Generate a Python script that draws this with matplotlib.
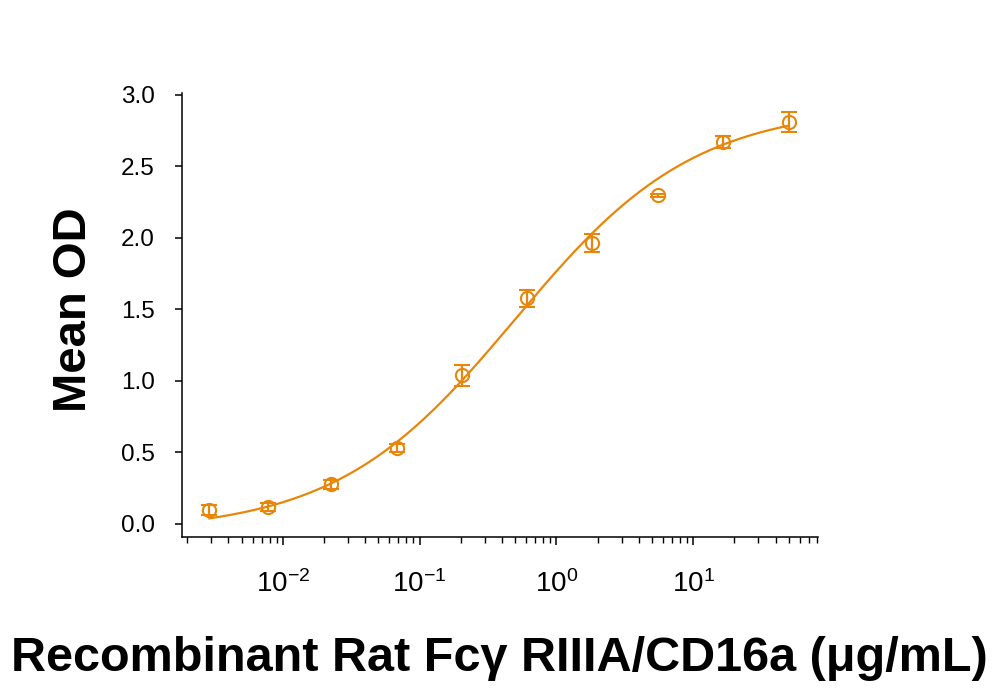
import numpy as np
import matplotlib
matplotlib.use('Agg')
import matplotlib.pyplot as plt
from matplotlib.ticker import LogLocator, LogFormatterMathtext, NullFormatter

plt.rcParams['axes.unicode_minus'] = False

# concentration (ug/mL), mean OD and error (half-length)
conc = [0.0029, 0.0078, 0.0226, 0.068, 0.203, 0.609, 1.83, 5.5, 16.6, 50.0]
mean_od = [0.094, 0.117, 0.274, 0.53, 1.038, 1.575, 1.96, 2.297, 2.67, 2.81]
err = [0.035, 0.03, 0.03, 0.03, 0.073, 0.062, 0.063, 0.012, 0.04, 0.072]

# 4-parameter logistic fit: bottom, top, EC50, hill slope
fit_bottom = -0.06
fit_top = 2.92
fit_ec50 = 0.5
fit_hill = 0.66

orange = '#E8860A'
tick_font = ['Liberation Sans', 'DejaVu Sans']
label_font = ['Liberation Sans', 'DejaVu Sans']

fig = plt.figure(figsize=(9.99, 6.9), dpi=100)
ax = fig.add_axes([0.1825, 0.2217, 0.6365, 0.6435])

xs = np.logspace(np.log10(conc[0]), np.log10(conc[-1]), 300)
ys = fit_top + (fit_bottom - fit_top) / (1 + (xs / fit_ec50) ** fit_hill)
ax.plot(xs, ys, color=orange, lw=1.6)

ax.errorbar(conc, mean_od, yerr=err, fmt='o', mfc='none', mec=orange,
            ms=9.5, mew=1.5, color=orange, ecolor=orange, elinewidth=1.6,
            capsize=6, capthick=1.6)

ax.set_xscale('log')
ax.set_xlim(0.00184, 82)
ax.set_ylim(-0.094, 3.012)
ax.set_yticks([0.0, 0.5, 1.0, 1.5, 2.0, 2.5, 3.0])
ax.set_yticklabels(['0.0', '0.5', '1.0', '1.5', '2.0', '2.5', '3.0'])

ax.xaxis.set_major_locator(LogLocator(base=10, numticks=10))
ax.xaxis.set_major_formatter(LogFormatterMathtext())
ax.xaxis.set_minor_locator(LogLocator(base=10, subs=np.arange(2, 10), numticks=20))
ax.xaxis.set_minor_formatter(NullFormatter())

for s in ['top', 'right']:
    ax.spines[s].set_visible(False)
for s in ['left', 'bottom']:
    ax.spines[s].set_linewidth(1.1)

ax.tick_params(axis='y', length=5, width=1.1, pad=15)
ax.tick_params(axis='x', which='major', length=6, width=1.1, pad=18)
ax.tick_params(axis='x', which='minor', length=4, width=1.0)

for lab in ax.get_yticklabels():
    lab.set_family(tick_font)
    lab.set_fontsize(17.5)
for lab in ax.get_xticklabels():
    lab.set_family(tick_font)
    lab.set_fontsize(20)

ax.set_ylabel('Mean OD', family=label_font, fontweight='bold', fontsize=34)
ax.yaxis.set_label_coords(-0.135, 0.512)
fig.text(0.5, 0.028, 'Recombinant Rat Fc\u03b3 RIIIA/CD16a (\u03bcg/mL)', ha='center',
         va='baseline', family=label_font, fontweight='bold', fontsize=35)

fig.savefig('out.png', dpi=100)
